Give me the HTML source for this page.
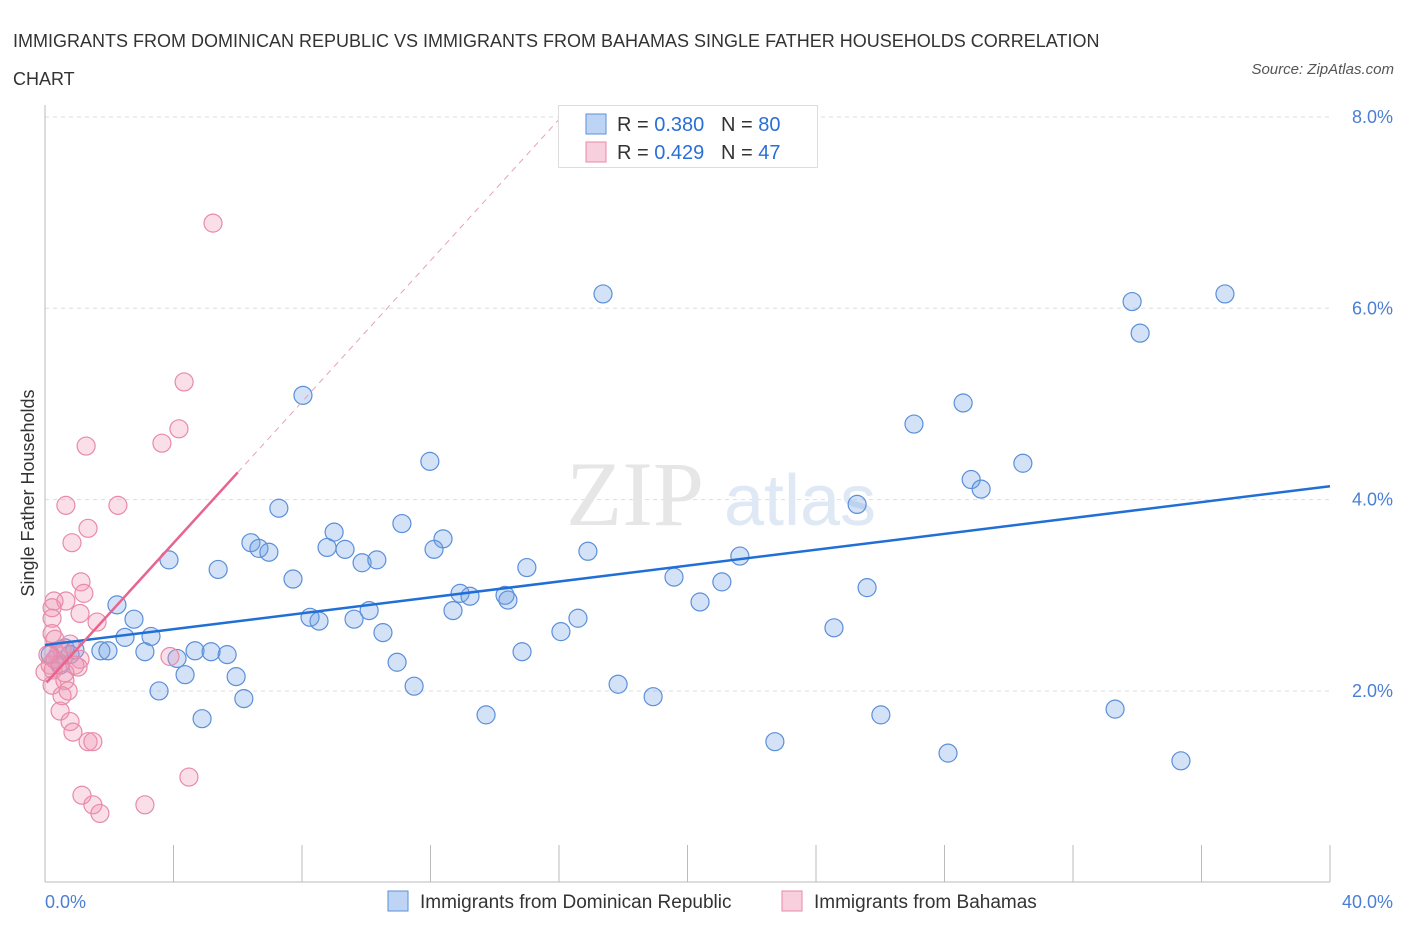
<!DOCTYPE html>
<html><head><meta charset="utf-8"><style>
body{margin:0;background:#fff;font-family:"Liberation Sans",sans-serif;}
#wrap{position:relative;width:1406px;height:930px;overflow:hidden;}
.t{position:absolute;white-space:nowrap;}
</style></head><body>
<div id="wrap">
<div class="t" style="left:13px;top:22px;font-size:18px;color:#333;line-height:38px;">IMMIGRANTS FROM DOMINICAN REPUBLIC VS IMMIGRANTS FROM BAHAMAS SINGLE FATHER HOUSEHOLDS CORRELATION<br>CHART</div>
<div class="t" style="right:12px;top:61px;font-size:15px;color:#555;font-style:italic;">Source: ZipAtlas.com</div>
<svg id="svg" width="1406" height="930" style="position:absolute;left:0;top:0"></svg>
</div>
<script>
const yTicks=[2,4,6,8];
const yTickLabels=["2.0%","4.0%","6.0%","8.0%"];
const xTickLabels=["0.0%","40.0%"];
const blueX=[17.37,33.84,36.73,34.09,8.03,28.58,27.05,11.98,30.44,28.83,29.14,25.28,7.28,11.11,9.00,6.41,12.39,6.66,6.97,8.78,9.34,12.11,16.90,21.63,3.86,9.87,10.33,5.39,15.00,7.72,19.58,21.07,25.59,12.92,13.23,14.32,14.41,20.39,2.24,10.09,12.70,8.25,8.53,9.62,16.59,2.77,24.56,10.52,16.06,3.30,2.49,0.62,0.93,1.74,1.96,3.11,4.67,5.17,5.67,4.11,14.85,10.96,4.36,5.95,3.55,11.49,17.84,18.93,6.19,13.73,26.02,4.89,33.31,22.72,28.11,35.36,0.31,0.47,0.16,0.78];
const blueY=[6.15,6.07,6.15,5.74,5.09,5.01,4.79,4.40,4.38,4.21,4.11,3.95,3.91,3.75,3.66,3.55,3.59,3.49,3.45,3.50,3.48,3.48,3.46,3.41,3.37,3.34,3.37,3.27,3.29,3.17,3.19,3.14,3.08,3.02,2.99,3.00,2.95,2.93,2.90,2.84,2.84,2.77,2.73,2.75,2.76,2.75,2.66,2.61,2.62,2.57,2.56,2.45,2.43,2.42,2.42,2.41,2.42,2.41,2.38,2.34,2.41,2.30,2.17,2.15,2.00,2.05,2.07,1.94,1.92,1.75,1.75,1.71,1.81,1.47,1.35,1.27,2.33,2.27,2.38,2.38];
const pinkX=[5.23,4.33,4.17,3.64,1.28,0.65,2.27,1.34,0.84,1.12,1.21,0.65,0.28,0.22,1.09,0.22,1.62,0.22,0.31,0.78,0.40,3.89,1.09,0.47,0.16,0.93,0.25,0.00,0.62,1.03,0.22,0.62,0.72,0.53,0.47,0.78,0.87,1.34,1.49,4.48,1.15,1.49,1.71,3.11,0.31,0.53,0.09];
const pinkY=[6.89,5.23,4.74,4.59,4.56,3.94,3.94,3.70,3.55,3.14,3.02,2.94,2.94,2.87,2.81,2.76,2.72,2.60,2.54,2.49,2.38,2.36,2.33,2.29,2.27,2.27,2.22,2.20,2.19,2.25,2.06,2.11,2.00,1.95,1.79,1.68,1.57,1.47,1.47,1.10,0.91,0.81,0.72,0.81,2.33,2.43,2.38];
const blueTrend=[2.48,4.14];
const pinkTrend=[2.07,0.369];

const NS="http://www.w3.org/2000/svg";
const svg=document.getElementById('svg');
const X0=45,X1=1330,XMAX=40,Y0=882.3,YPX=95.67;
const sx=v=>X0+v/XMAX*(X1-X0);
const sy=v=>Y0-v*YPX;
function mk(tag,attrs,parent){const e=document.createElementNS(NS,tag);for(const k in attrs)e.setAttribute(k,attrs[k]);(parent||svg).appendChild(e);return e;}

yTicks.forEach((t,i)=>{
  const g=mk('line',{x1:X0,x2:X1,y1:sy(t),y2:sy(t),stroke:'#ddd','stroke-dasharray':'4,4'});
  
  
  const tx=mk('text',{x:1393,y:sy(t)+6,'text-anchor':'end','font-size':18,fill:'#4a7fd4','font-family':'Liberation Sans'});
  tx.textContent=yTickLabels[i];
  
  
});
const ax=mk('line',{x1:X0,x2:X0,y1:105,y2:882,stroke:'#bbb'});


const bx=mk('line',{x1:X0,x2:X1,y1:882,y2:882,stroke:'#bbb'});


for(let i=0;i<=10;i++){
  const t=mk('line',{x1:sx(i*4),x2:sx(i*4),y1:845,y2:882,stroke:'#bbb'});
  
  
}
[[0,'start',45],[40,'end',1393]].forEach((d,i)=>{
  const tx=mk('text',{x:d[2],y:908,'text-anchor':d[1],'font-size':18,fill:'#4a7fd4','font-family':'Liberation Sans'});
  tx.textContent=xTickLabels[i];
  
  
});
const yt=mk('text',{x:34,y:493,'text-anchor':'middle','font-size':18,fill:'#333',transform:'rotate(-90 34 493)','font-family':'Liberation Sans'});
yt.textContent='Single Father Households';


const wm=mk('text',{x:635,y:525,'text-anchor':'middle','font-size':92,fill:'#e6e6e6','font-family':'Liberation Serif'});
wm.textContent='ZIP';


const wm2=mk('text',{x:800,y:525,'text-anchor':'middle','font-size':72,fill:'#dfe8f5','font-family':'Liberation Sans'});
wm2.textContent='atlas';



blueX.forEach((x,i)=>{
  const c=mk('circle',{cx:sx(x),cy:sy(blueY[i]),r:9,fill:'rgba(110,160,230,0.3)',stroke:'#5b8fd9','stroke-width':1.2});
  
  
});
pinkX.forEach((x,i)=>{
  const c=mk('circle',{cx:sx(x),cy:sy(pinkY[i]),r:9,fill:'rgba(240,150,180,0.3)',stroke:'#e88aa8','stroke-width':1.2});
  
  
});
const bl=mk('line',{x1:sx(0),y1:sy(blueTrend[0]),x2:sx(40),y2:sy(blueTrend[1]),stroke:'#1f6fd6','stroke-width':2.5});


const pe=(8-pinkTrend[0])/pinkTrend[1];
const pd=mk('line',{x1:sx(6),y1:sy(pinkTrend[0]+pinkTrend[1]*6),x2:sx(pe),y2:sy(8),stroke:'#e8a0b8','stroke-width':1,'stroke-dasharray':'6,5'});


const pl=mk('line',{x1:sx(0.05),y1:sy(pinkTrend[0]+pinkTrend[1]*0.05),x2:sx(6),y2:sy(pinkTrend[0]+pinkTrend[1]*6),stroke:'#e8648f','stroke-width':2.5});



// legend box
const lg=mk('rect',{x:558.5,y:105.5,width:259,height:62,fill:'#fff',stroke:'#ddd'});


[['rgba(110,160,230,0.45)','#5b8fd9','0.380','80',124],['rgba(240,150,180,0.45)','#e88aa8','0.429','47',152]].forEach(r=>{
  const s=mk('rect',{x:586,y:r[4]-10,width:20,height:20,fill:r[0],stroke:r[1]});
  
  
  const t=mk('text',{x:617,y:r[4]+7,'font-size':20,fill:'#333','font-family':'Liberation Sans'});
  t.innerHTML='R = <tspan fill="#2a6fd6">'+r[2]+'</tspan>&#160;&#160;&#160;N = <tspan fill="#2a6fd6">'+r[3]+'</tspan>';
  
  
});
// bottom legend
[['rgba(110,160,230,0.45)','#5b8fd9',388,'Immigrants from Dominican Republic'],['rgba(240,150,180,0.45)','#e88aa8',782,'Immigrants from Bahamas']].forEach(r=>{
  const s=mk('rect',{x:r[2],y:891,width:20,height:20,fill:r[0],stroke:r[1]});
  
  
  const t=mk('text',{x:r[2]+32,y:908,'font-size':19,fill:'#333','font-family':'Liberation Sans'});
  t.textContent=r[3];
  
  
});
</script>
</body></html>
